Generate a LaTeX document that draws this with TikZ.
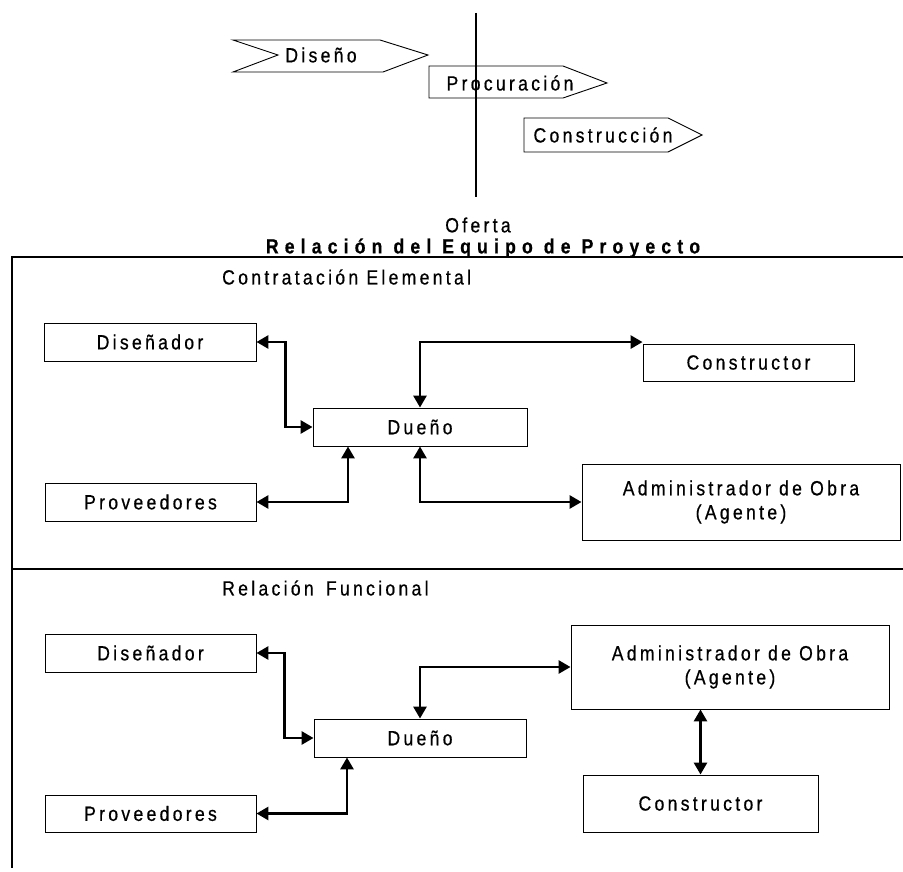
\documentclass[tikz,border=0pt]{standalone}
\usepackage{fontspec}
\setmainfont{Liberation Sans}
\newfontfamily\labfont{Liberation Sans}[LetterSpace=16,FakeStretch=0.86,FakeBold=0.6]
\newfontfamily\titlefont{Liberation Sans}[LetterSpace=30,FakeStretch=0.86,FakeBold=0.6]
\usetikzlibrary{arrows.meta}
\begin{document}
\begin{tikzpicture}[x=1pt,y=-1pt,
  every node/.style={font=\labfont\fontsize{20.5}{24}\selectfont, inner sep=0pt},
  box/.style={draw, line width=0.9pt, align=center},
  phase/.style={draw, line width=0.9pt},
  conn/.style={line width=2.8pt, {Triangle[length=12pt,width=13pt]}-{Triangle[length=12pt,width=13pt]}},
  frameline/.style={line width=1.2pt}]
\useasboundingbox (0,0) rectangle (903,872);

% project phases
\draw[phase] (233,40) -- (380,40) -- (428,55) -- (383,72) -- (233,72) -- (278,55) -- cycle;
\draw[phase] (429,66) -- (563,66) -- (607,83) -- (563,98) -- (429,98) -- cycle;
\draw[phase] (524,118) -- (668,118) -- (702,135) -- (668,152) -- (524,152) -- cycle;
\node (tdis) at (321,55) {Diseño};
\node (tpro) at (510,83) {Procuración};
\node (tcon) at (603,135) {Construcción};
\coordinate (ofTop) at (476,13);
\coordinate (ofBot) at (476,197);
\draw[line width=1.2pt] (ofTop) -- (ofBot);
\node (oferta) at (478,225) {Oferta};
\node (title) at (483,248) {\titlefont\bfseries Relación del Equipo de Proyecto};

% frame
\coordinate (fTL) at (12,257);
\coordinate (fTR) at (903,257);
\coordinate (fBL) at (12,868);
\coordinate (fML) at (12,569);
\coordinate (fMR) at (903,569);
\draw[frameline] (fTR) -- (fTL) -- (fBL);
\draw[line width=2.6pt] (fML) -- (fMR);

% Contratación Elemental
\node[anchor=west] (sec1) at (222,277) {Contratación Elemental};
\node[box, minimum width=212, minimum height=38] (d1) at (150,342) {Diseñador};
\node[box, minimum width=211, minimum height=38] (p1) at (150.5,502) {Proveedores};
\node[box, minimum width=214, minimum height=38] (o1) at (420,427) {Dueño};
\node[box, minimum width=211, minimum height=37] (c1) at (748.5,362.5) {Constructor};
\node[box, minimum width=318, minimum height=76] (a1) at (741,502) {Administrador de Obra\\(Agente)};
\draw[conn] (d1.east) -- ++(29,0) |- (o1.west);
\draw[conn] (p1.east) -| ([xshift=-72pt]o1.south);
\draw[conn] (o1.south) |- (a1.west);
\draw[conn] (o1.north) |- ([yshift=1.5pt]c1.north west);

% Relación Funcional
\node[anchor=west] (sec2) at (222,588) {Relación\hspace{4pt} Funcional};
\node[box, minimum width=211, minimum height=38] (d2) at (150.5,653) {Diseñador};
\node[box, minimum width=211, minimum height=37] (p2) at (150.5,813.5) {Proveedores};
\node[box, minimum width=212, minimum height=38] (o2) at (420,738) {Dueño};
\node[box, minimum width=318, minimum height=84] (a2) at (730,667) {Administrador de Obra\\(Agente)};
\node[box, minimum width=235, minimum height=57] (c2) at (700.5,803.5) {Constructor};
\draw[conn] (d2.east) -- ++(28,0) |- (o2.west);
\draw[conn] (p2.east) -| ([xshift=-73pt]o2.south);
\draw[conn] (o2.north) |- (a2.west);
\draw[conn] (c2.north |- a2.south) -- (c2.north);
\end{tikzpicture}
\end{document}
